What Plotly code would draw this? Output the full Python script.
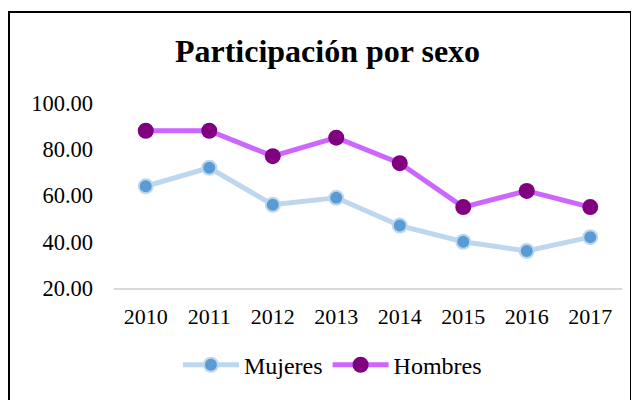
import plotly.graph_objects as go

years = ["2010", "2011", "2012", "2013", "2014", "2015", "2016", "2017"]
mujeres = [64, 72, 56, 59, 47, 40, 36, 42]
hombres = [88, 88, 77, 85, 74, 55, 62, 55]
yticks = [20, 40, 60, 80, 100]

W, H = 631, 392
L, T, PW, PH = 106, 95, 508, 187

fig = go.Figure()
fig.add_trace(go.Scatter(
    x=years, y=mujeres, name="Mujeres", mode="lines+markers",
    line=dict(color="#BDD7EE", width=5),
    marker=dict(color="#5B9BD5", size=14, line=dict(color="#BDD7EE", width=2)),
))
fig.add_trace(go.Scatter(
    x=years, y=hombres, name="Hombres", mode="lines+markers",
    line=dict(color="#CC66FF", width=5),
    marker=dict(color="#800080", size=16, line=dict(color="#800080", width=0)),
))

fig.update_layout(
    width=W, height=H,
    margin=dict(l=L, r=W - L - PW, t=T, b=H - T - PH),
    paper_bgcolor="white", plot_bgcolor="white",
    font=dict(family="Liberation Serif", size=22, color="black"),
    title=dict(text="<b>Participación por sexo</b>", x=319.5 / W, xref="container", xanchor="center",
               y=1 - 43 / H, yref="container", yanchor="middle",
               font=dict(size=32, family="Liberation Serif", color="black")),
    xaxis=dict(range=[-0.5, len(years) - 0.5], showgrid=False, showline=True,
               linecolor="#D9D9D9", linewidth=1.5,
               ticks="", ticklabelstandoff=8, zeroline=False),
    yaxis=dict(range=[20, 100], tickvals=yticks, tickformat=".2f", showgrid=False,
               showline=False, zeroline=False, ticks="", ticklabelstandoff=20,
               tickfont=dict(size=22.5)),
    legend=dict(orientation="h", x=0.43, xanchor="center", y=-0.417, yanchor="middle",
                font=dict(size=24), tracegroupgap=0, itemwidth=56),
    showlegend=True,
)

fig.add_shape(type="rect", xref="paper", yref="paper",
              x0=(1 - L) / PW, x1=(623 - L) / PW,
              y0=(T + PH - 400) / PH, y1=(T + PH - 3) / PH,
              line=dict(color="black", width=2), fillcolor="rgba(0,0,0,0)", layer="below")

fig.write_html("out.html")
